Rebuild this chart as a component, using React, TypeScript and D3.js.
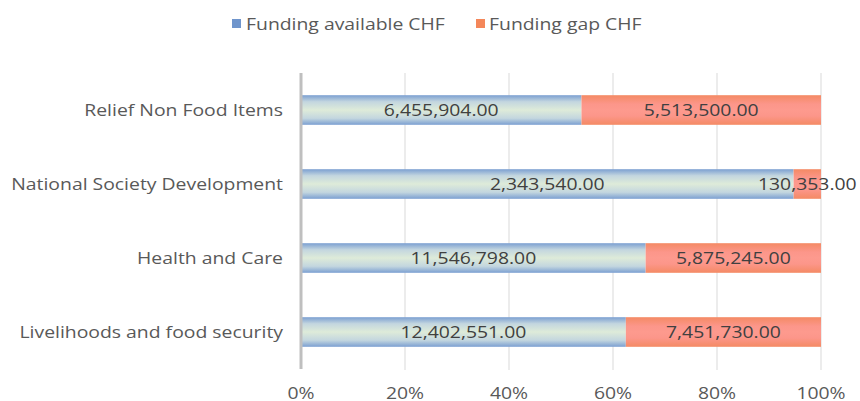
import React from "react";
import * as d3 from "d3";

const categories = ["Relief Non Food Items", "National Society Development", "Health and Care", "Livelihoods and food security"];
const available = [6455904, 2343540, 11546798, 12402551];
const gap = [5513500, 130353, 5875245, 7451730];
const ticks = [0, 0.2, 0.4, 0.6, 0.8, 1];
const seriesNames = ["Funding available CHF", "Funding gap CHF"];

const W = 860, H = 401;
const FONT = "'Open Sans', 'DejaVu Sans', sans-serif";
const TXT = "#595959";
const FS = 17;
const SX = 1.14;

function SText({ x, y, anchor = "start", fill = TXT, children }: any) {
  return (
    <text transform={`translate(${x},${y}) scale(${SX},1)`} textAnchor={anchor} dy="0.35em" fontSize={FS} fill={fill}>
      {children}
    </text>
  );
}

export default function App() {
  const x = d3.scaleLinear().domain([0, 1]).range([301, 821]);
  const y = d3.scaleBand().domain(categories).range([73, 369]).paddingInner(0.6).paddingOuter(0.3);
  const fmt = d3.format(",.2f");
  const pct = d3.format(".0%");
  const bh = y.bandwidth();
  return (
    <svg width={W} height={H} style={{ position: "absolute", left: 0, top: 0 }} fontFamily={FONT}>
      <defs>
        <linearGradient id="gBlue" x1="0" y1="0" x2="0" y2="1">
          <stop offset="0" stopColor="#7b9fd1" />
          <stop offset="0.22" stopColor="#c3d6df" />
          <stop offset="0.5" stopColor="#deebd9" />
          <stop offset="0.78" stopColor="#c3d6df" />
          <stop offset="1" stopColor="#7b9fd1" />
        </linearGradient>
        <linearGradient id="gOrange" x1="0" y1="0" x2="0" y2="1">
          <stop offset="0" stopColor="#f48a64" />
          <stop offset="0.3" stopColor="#fc968a" />
          <stop offset="0.5" stopColor="#fd9a8e" />
          <stop offset="0.7" stopColor="#fc968a" />
          <stop offset="1" stopColor="#f48a64" />
        </linearGradient>
      </defs>
      <rect x={0} y={0} width={W} height={H} fill="#fff" />
      {/* legend */}
      <rect x={232} y={19} width={9} height={9} fill="#6f95cc" />
      <SText x={246} y={24}>{seriesNames[0]}</SText>
      <rect x={476} y={19} width={9} height={9} fill="#f4875a" />
      <SText x={489} y={24}>{seriesNames[1]}</SText>
      {/* gridlines */}
      {ticks.slice(1).map((t) => (
        <line key={t} x1={x(t)} x2={x(t)} y1={73} y2={370} stroke="#d9d9d9" strokeWidth={1} />
      ))}
      {/* bars */}
      {categories.map((c, i) => {
        const tot = available[i] + gap[i];
        const fa = available[i] / tot;
        const y0 = y(c)!;
        const cy = y0 + bh / 2;
        return (
          <g key={c}>
            <rect x={x(0)} y={y0} width={x(fa) - x(0)} height={bh} fill="url(#gBlue)" />
            <rect x={x(fa)} y={y0} width={x(1) - x(fa)} height={bh} fill="url(#gOrange)" />
            <SText x={(x(0) + x(fa)) / 2} y={cy} anchor="middle" fill="#404040">{fmt(available[i])}</SText>
            <SText x={(x(fa) + x(1)) / 2} y={cy} anchor="middle" fill="#404040">{fmt(gap[i])}</SText>
            <SText x={283} y={cy} anchor="end">{c}</SText>
          </g>
        );
      })}
      {/* axis line */}
      <line x1={x(0)} x2={x(0)} y1={73} y2={369} stroke="#bfbfbf" strokeWidth={3} />
      {ticks.map((t) => (
        <SText key={t} x={x(t)} y={393} anchor="middle">{pct(t)}</SText>
      ))}
    </svg>
  );
}
